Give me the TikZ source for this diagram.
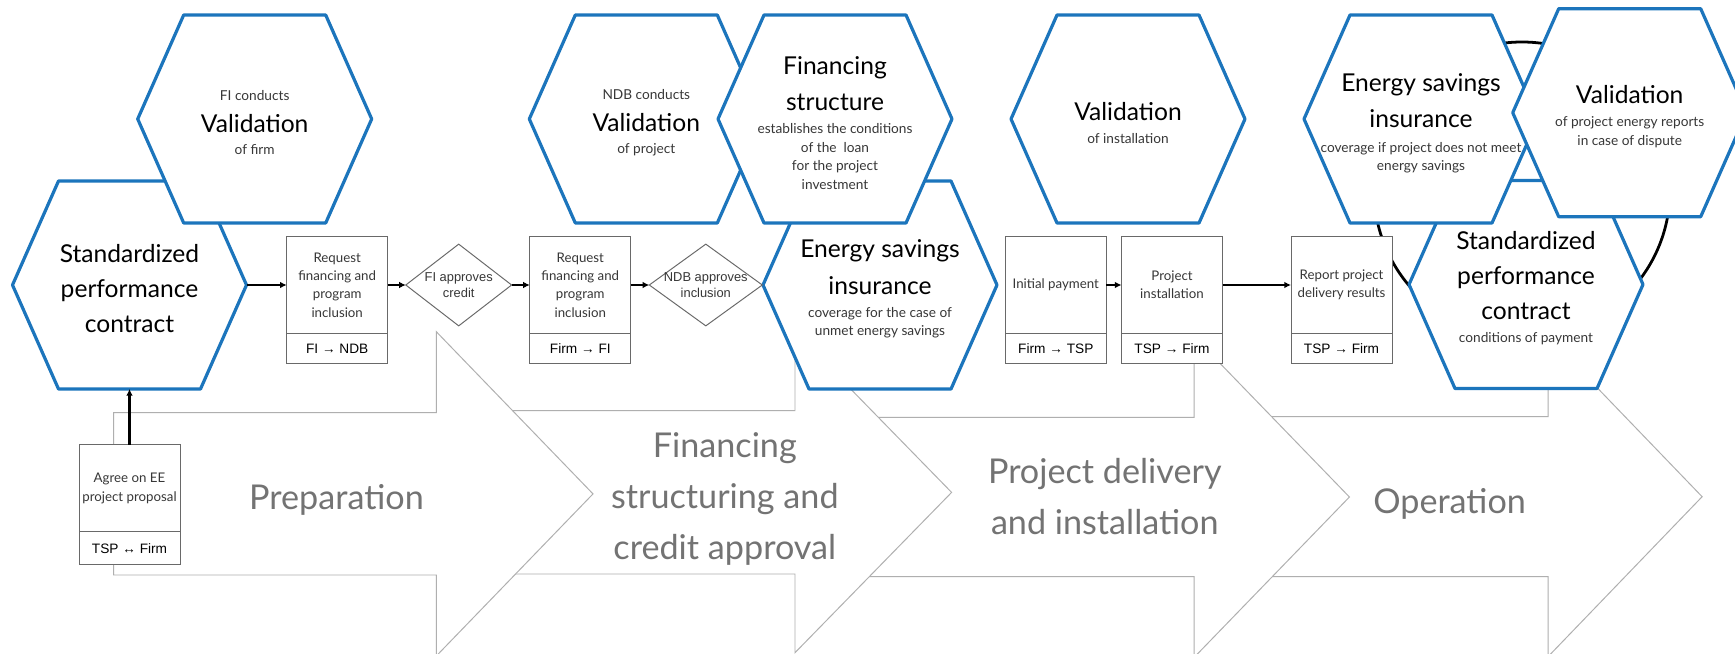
\documentclass[tikz,border=0pt]{standalone}
\usepackage{fontspec}
\setmainfont{Lato}
\newfontfamily\rolefont{Liberation Sans}
\usetikzlibrary{shapes.geometric,arrows.meta,positioning,calc}
\definecolor{hexblue}{RGB}{28,117,188}
\definecolor{phasegray}{RGB}{175,175,175}
\definecolor{phasetext}{RGB}{115,115,115}
\definecolor{boxgray}{RGB}{105,105,105}
\definecolor{notegray}{RGB}{55,55,55}
\newlength{\pxu}
\setlength{\pxu}{0.18mm}
\newcommand{\hextitle}{\fontsize{12.6}{0}\selectfont\color{black}}
\newcommand{\hexnote}{\fontsize{7}{0}\selectfont\color{notegray}}
\newcommand{\hexcell}[3]{%
    \path[hexline] (#2) +(-117,0) -- +(-71,-104) -- +(71,-104) -- +(117,0) -- +(71,104) -- +(-71,104) -- cycle;
    \node[hextext] (#1) at (#2) {#3};
    \coordinate (#1-w) at ($(#2)+(-117,0)$);
    \coordinate (#1-e) at ($(#2)+(117,0)$);
    \coordinate (#1-s) at ($(#2)+(0,104)$);
}
\tikzset{
    hexline/.style={draw=hexblue, fill=white, line width=3.2\pxu, line join=round},
    hextext/.style={align=center, inner sep=0pt, yshift=-0.7mm, font={\hexnote\lineskiplimit=-\maxdimen}},
    stepbox/.style={draw=boxgray, fill=white, line width=0.5pt, outer sep=0pt, inner sep=0pt,
        minimum width=101\pxu, minimum height=97.3\pxu, align=center, text=notegray,
        font=\fontsize{6.8}{9.4}\selectfont},
    steprole/.style={draw=boxgray, fill=white, line width=0.5pt, outer sep=0pt, inner sep=0pt,
        minimum width=101\pxu, minimum height=29.4\pxu, font=\rolefont\fontsize{7}{8}\selectfont},
    decision/.style={diamond, draw=boxgray, fill=white, line width=0.5pt, outer sep=0pt,
        inner sep=0pt, minimum height=81.7\pxu},
    decisiontext/.style={align=center, inner sep=0pt, text=notegray,
        font=\rolefont\fontsize{6.6}{8.2}\selectfont},
    flow/.style={-{Latex[length=1.2mm,width=1.2mm]}, line width=0.4mm},
    phase/.style={draw=phasegray, fill=white, line width=0.5pt},
    phaselabel/.style={align=center, text=phasetext, font=\fontsize{17.5}{26}\selectfont},
    loopline/.style={draw=black, line width=0.5mm}
}

\begin{document}
\begin{tikzpicture}[x=0.18mm, y=-0.18mm]
    \fill[white] (0,0) rectangle (1735,654);
    \useasboundingbox (0,0) rectangle (1735,654);

    \path[phase] (1240,416.7) -- (1548,416.7) -- (1548,336.7) -- (1702.1,496.7) -- (1548,656.7) -- (1548,576.7) -- (1240,576.7) -- cycle;
    \path[phase] (840,417.3) -- (1194.2,417.3) -- (1194.2,336.7) -- (1349.4,497) -- (1194.2,657.3) -- (1194.2,576.7) -- (840,576.7) -- cycle;
    \path[phase] (480,410.7) -- (795,410.7) -- (795,332) -- (951.6,492.4) -- (795,652.7) -- (795,574) -- (480,574) -- cycle;
    \path[phase] (113.7,412.7) -- (436.3,412.7) -- (436.3,331.7) -- (593,493.9) -- (436.3,656) -- (436.3,575) -- (113.7,575) -- cycle;

    \node[phaselabel] (prep) at (336.5,500) {Preparation};
    \node[phaselabel] (fin) at (724.8,499) {Financing\\structuring and\\credit approval};
    \node[phaselabel] (deliv) at (1104.8,496.5) {Project delivery\\and installation};
    \node[phaselabel] (oper) at (1449.6,504) {Operation};

    \coordinate (loop) at (1522,190);
    \draw[loopline] (loop) circle[radius=148];

    \hexcell{spc}{129.5,285}{\hextitle Standardized\\[6.3mm]\hextitle performance\\[6.3mm]\hextitle contract}
    \hexcell{valfirm}{254.7,119}{FI conducts\\[5.7mm]\hextitle Validation\\[4mm]of firm}
    \hexcell{esi}{880,285}{\hextitle Energy savings\\[6.6mm]\hextitle insurance\\[4.2mm]coverage for the case of\\[3.3mm]unmet energy savings}
    \hexcell{valproj}{646.3,119}{NDB conducts\\[5.7mm]\hextitle Validation\\[4mm]of project}
    \hexcell{finstruct}{835,119}{\hextitle Financing\\[6.6mm]\hextitle structure\\[4.1mm]establishes the conditions\\[3.35mm]of the~~loan\\[3.35mm]for the project\\[3.35mm]investment}
    \hexcell{valinst}{1128,119}{\hextitle Validation\\[4.26mm]of installation}
    \hexcell{spcop}{1526,284.5}{\hextitle Standardized\\[6.3mm]\hextitle performance\\[6.3mm]\hextitle contract\\[4.15mm]conditions of payment}
    \hexcell{esiop}{1421,119}{\hextitle Energy savings\\[6.6mm]\hextitle insurance\\[4.4mm]coverage if project does not meet\\[3.25mm]energy savings}
    \hexcell{valreport}{1629.7,112.7}{\hextitle Validation\\[4.2mm]of project energy reports\\[3.3mm]in case of dispute}

    \node[stepbox, minimum height=86.7\pxu] (agree) at (129.5,488.3) {Agree on EE\\project proposal};
    \node[steprole, minimum height=33.3\pxu, below=0pt of agree] (agree-role) {TSP ↔ Firm};
    \node[stepbox] (reqfi) at (337.2,285) {Request\\financing and\\program\\inclusion};
    \node[steprole, below=0pt of reqfi] (reqfi-role) {FI → NDB};
    \node[decision, minimum width=105.8\pxu] (fiok) at (458.7,285) {};
    \node[decisiontext] (fiok-text) at (fiok) {FI approves\\credit};
    \node[stepbox] (reqndb) at (580.3,285) {Request\\financing and\\program\\inclusion};
    \node[steprole, below=0pt of reqndb] (reqndb-role) {Firm → FI};
    \node[decision, minimum width=113\pxu] (ndbok) at (705.8,285) {};
    \node[decisiontext] (ndbok-text) at (ndbok) {NDB approves\\inclusion};
    \node[stepbox] (payment) at (1055.8,285) {Initial payment};
    \node[steprole, below=0pt of payment] (payment-role) {Firm → TSP};
    \node[stepbox] (install) at (1172,285) {Project\\installation};
    \node[steprole, below=0pt of install] (install-role) {TSP → Firm};
    \node[stepbox] (report) at (1341.5,285) {Report project\\delivery results};
    \node[steprole, below=0pt of report] (report-role) {TSP → Firm};

    \draw[flow] (agree.north) -- (spc-s);
    \draw[flow] (spc-e) -- (reqfi.west);
    \draw[flow] (reqfi.east) -- (fiok.west);
    \draw[flow] (fiok.east) -- (reqndb.west);
    \draw[flow] (reqndb.east) -- (ndbok.west);
    \draw[flow] (payment.east) -- (install.west);
    \draw[flow] (install.east) -- (report.west);
\end{tikzpicture}
\end{document}
